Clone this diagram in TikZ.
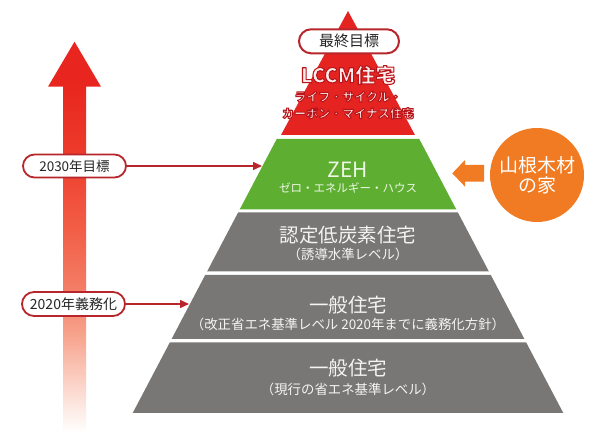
\documentclass[tikz,border=0pt]{standalone}
\usepackage{fontspec}
\setmainfont{Noto Sans CJK JP}
\usetikzlibrary{arrows.meta,shapes.misc}
\definecolor{pyrred}{HTML}{E52421}
\definecolor{pyrgreen}{HTML}{5DAE31}
\definecolor{pyrgray}{HTML}{797775}
\definecolor{lblred}{HTML}{B8262C}
\definecolor{orng}{HTML}{F07B22}
\definecolor{greentext}{HTML}{EEF7E6}
\definecolor{graytext}{HTML}{F4F4F4}
\definecolor{lccmtext}{HTML}{FFEDED}
\definecolor{fadeA}{HTML}{FDEBE5}
\definecolor{fadeB}{HTML}{FAC6B8}
\definecolor{fadeC}{HTML}{F7A089}
\definecolor{fadeD}{HTML}{F47E66}
\definecolor{fadeE}{HTML}{F25E47}
\definecolor{fadeF}{HTML}{EC3A2A}
\definecolor{fadeG}{HTML}{E8251E}
\pgfdeclareverticalshading{arrowfade}{100bp}{color(0bp)=(white); color(25bp)=(white);
  color(28bp)=(fadeA); color(33bp)=(fadeB); color(38bp)=(fadeC); color(43.3bp)=(fadeD);
  color(51bp)=(fadeE); color(61.2bp)=(fadeF); color(70bp)=(fadeG); color(100bp)=(fadeG)}
\newcommand{\redoutline}[1]{\special{pdf:literal direct 0.72 0.08 0.10 RG 1.05 w 1 j 2 Tr}#1\special{pdf:literal direct 0 Tr}}
\begin{document}
\begin{tikzpicture}[x=1pt,y=-1pt,
  lbl/.style={draw=lblred, line width=1.8pt, fill=white, rounded rectangle,
    inner sep=0pt, minimum height=23pt, text=black!85,
    font=\fontsize{14}{16}\selectfont},
  conn/.style={draw=lblred, line width=1.5pt, -{Triangle[length=9pt,width=8pt]}},
  lccmstyle/.style={text=lccmtext, inner sep=0pt},
  gtitle/.style={text=graytext, inner sep=0pt, font=\fontsize{19.5}{22}\selectfont},
  gsub/.style={text=graytext, inner sep=0pt, font=\fontsize{13.4}{15}\selectfont}
]
\useasboundingbox (0,0) rectangle (603,435);
\fill[white] (0,0) rectangle (603,435);

% big gradient arrow
\shade[shading=arrowfade]
  (74.5,41.7) -- (101,86.7) -- (86,86.7) -- (86,433) -- (63,433) -- (63,86.7) -- (48,86.7) -- cycle;

% pyramid bands
\fill[pyrred] (348,11) -- (415,135) -- (281,135) -- cycle;
\fill[pyrgreen] (276.7,139) -- (419.3,139) -- (456.3,209.5) -- (239.7,209.5) -- cycle;
\fill[pyrgray] (238.1,212.5) -- (457.9,212.5) -- (488.9,271.5) -- (207.1,271.5) -- cycle;
\fill[pyrgray] (205.2,275) -- (490.8,275) -- (524.4,339) -- (171.6,339) -- cycle;
\fill[pyrgray] (169.8,342.5) -- (526.2,342.5) -- (563.3,413) -- (132.7,413) -- cycle;

% top band texts
\node[lbl, minimum width=100pt, minimum height=24pt, line width=2pt,
  font=\fontsize{15}{17}\selectfont] (goal) at (349,41.3) {最終目標};
\node[lccmstyle, font=\fontsize{20}{22}\selectfont\bfseries] (lccm) at (348,75) {\redoutline{LCCM住宅}};
\node[lccmstyle, font=\fontsize{12}{14}\selectfont\bfseries] (lccm1) at (348,96.7) {\redoutline{ライフ・サイクル・}};
\node[lccmstyle, font=\fontsize{12}{14}\selectfont\bfseries] (lccm2) at (348,113.3) {\redoutline{カーボン・マイナス住宅}};

% green band
\node[text=greentext, inner sep=0pt, font=\fontsize{21}{23}\selectfont] (zeh) at (348,169.5) {ZEH};
\node[text=greentext, inner sep=0pt, font=\fontsize{11.5}{13}\selectfont] (zehsub) at (348,188.3) {ゼロ・エネルギー・ハウス};

% gray bands
\node[gtitle] (nintei) at (348,235) {認定低炭素住宅};
\node[gsub] (ninteisub) at (348,254.3) {（誘導水準レベル）};
\node[gtitle] (ippan2) at (348,304.7) {一般住宅};
\node[gsub] (ippan2sub) at (348,324) {（改正省エネ基準レベル 2020年までに義務化方針）};
\node[gtitle] (ippan1) at (348,368.3) {一般住宅};
\node[gsub] (ippan1sub) at (348,389.3) {（現行の省エネ基準レベル）};

% left labels and connectors
\node[lbl, minimum width=103pt, font=\fontsize{13.5}{16}\selectfont] (l2030) at (74.5,166) {2030年目標};
\coordinate (t2030) at (262,166);
\draw[conn] (l2030.east) -- (t2030);
\node[lbl, minimum width=103pt, minimum height=24pt] (l2020) at (73.5,304) {2020年義務化};
\coordinate (t2020) at (189,304);
\draw[conn] (l2020.east) -- (t2020);

% orange circle and arrow
\node[circle, fill=orng, minimum size=94pt, inner sep=0pt, align=center, text=white,
  font=\fontsize{19}{20}\selectfont] (yamane) at (537,175) {山根木材\\の家};
\fill[orng] (452.3,173.3) -- (465,160) -- (465,165) -- (484,165) -- (484,181.6)
  -- (465,181.6) -- (465,186.6) -- cycle;
\end{tikzpicture}
\end{document}
